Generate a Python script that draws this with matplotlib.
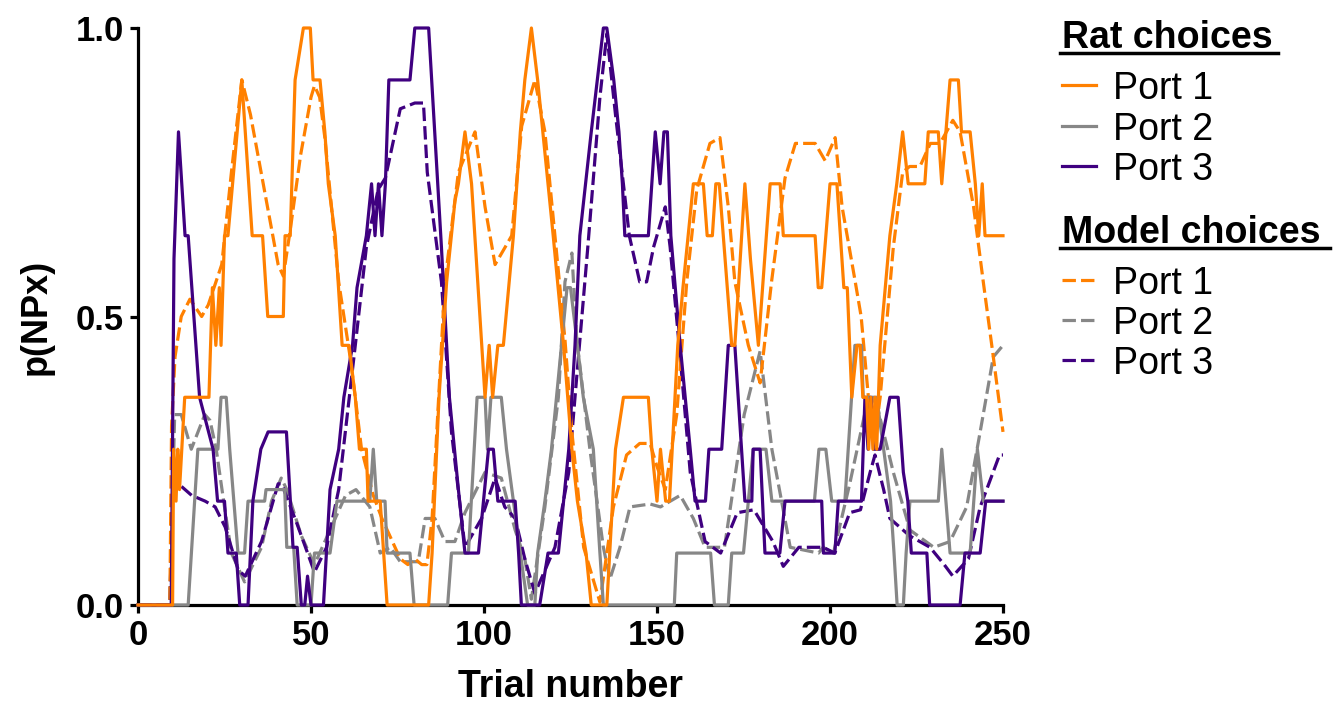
import matplotlib
matplotlib.use("Agg")
import matplotlib.pyplot as plt
from matplotlib.lines import Line2D

plt.rcParams['font.family'] = ['Liberation Sans', 'DejaVu Sans']

ORANGE = '#ff8000'
GREY = '#878787'
PURPLE = '#3f0080'

# rat choices: running fraction of pokes per port (trial, p)
rat_p1_t = [0, 10, 10.3, 11, 11.5, 12, 13.5, 20.5, 21.5, 22.5, 23.5, 24, 25, 26, 30, 31, 33, 36, 37.5, 42,
            42.5, 44, 45.4, 47.8, 49.8, 50.6, 52.6, 54, 55, 57, 59, 61, 62.8, 64, 66, 66.5, 70, 71, 72, 84,
            85, 87, 89.2, 91.6, 92.6, 94.5, 96.4, 100.3, 101.5, 102.5, 104, 105.6, 108.5, 110.5, 111.8, 113.7,
            115.5, 117, 120, 123, 125.4, 127, 129.5, 131, 135.5, 138, 140.3, 147.5, 148.5, 150, 151, 152.5,
            153.6, 156, 157.5, 160.5, 163.4, 164.5, 166, 167, 168, 171.6, 172.5, 175.4, 177, 179.3, 182.7,
            185.6, 186.5, 195.7, 196.6, 197.6, 200, 202, 204, 205, 206.3, 207.8, 208.7, 209.5, 210.6, 211.2,
            211.8, 212.4, 213, 213.5, 214.5, 217.3, 219.3, 221, 222.6, 227.4, 228.4, 231.3, 232.3, 233.5,
            234.7, 237.1, 238, 240.5, 242, 243, 244, 244.8, 250]
rat_p1_v = [0, 0, 0.27, 0.18, 0.27, 0.2, 0.36, 0.36, 0.55, 0.45, 0.55, 0.45, 0.64, 0.64, 0.91, 0.82, 0.64, 0.64, 0.5, 0.5,
            0.64, 0.64, 0.91, 1.0, 1.0, 0.91, 0.91, 0.82, 0.73, 0.64, 0.45, 0.45, 0.36, 0.27, 0.27, 0.18, 0.18, 0.09, 0, 0,
            0.09, 0.36, 0.56, 0.7, 0.73, 0.82, 0.73, 0.36, 0.45, 0.36, 0.45, 0.45, 0.64, 0.82, 0.91, 1.0,
            0.91, 0.82, 0.64, 0.45, 0.27, 0.18, 0.09, 0, 0, 0.27, 0.36, 0.36, 0.27, 0.18, 0.27, 0.18,
            0.18, 0.45, 0.55, 0.73, 0.73, 0.64, 0.64, 0.73, 0.73, 0.45, 0.45, 0.73, 0.6, 0.45, 0.73,
            0.73, 0.64, 0.64, 0.55, 0.55, 0.73, 0.73, 0.55, 0.55, 0.36, 0.45, 0.45, 0.36, 0.36, 0.27,
            0.36, 0.27, 0.36, 0.27, 0.45, 0.64, 0.73, 0.82, 0.73, 0.73, 0.82, 0.82, 0.73, 0.82,
            0.91, 0.91, 0.82, 0.82, 0.73, 0.64, 0.73, 0.64, 0.64]

rat_p2_t = [0, 14.5, 17.3, 23.1, 24, 25.5, 26.5, 28.9, 30.8, 31.8, 36.6, 37, 42.4, 43, 45, 46, 50, 51, 55.5, 57.5,
            67, 68, 69, 71.4, 72, 78.6, 79.8, 89.5, 90.6, 95.5, 98, 100.3, 101, 102, 105, 106.5, 108.5, 110.5,
            112.6, 114.7, 115.5, 117.6, 119.5, 122.4, 124, 125, 127, 128.7, 131.6, 133.5, 134.5, 155, 155.7,
            165.5, 166.6, 170.6, 171.6, 175, 177.8, 181.5, 183.2, 195.5, 196.8, 198.8, 200.5, 204.3, 207.2,
            209.1, 209.6, 213.5, 215.5, 217.5, 218.5, 219.4, 221.2, 222, 223.1, 231.3, 232.3, 234.7, 240.5,
            242.6, 244.3, 250]
rat_p2_v = [0, 0, 0.27, 0.27, 0.36, 0.36, 0.27, 0.09, 0.09, 0.18, 0.18, 0.2, 0.2, 0.1, 0.1, 0, 0, 0.09, 0.09, 0.18,
            0.18, 0.27, 0.18, 0.18, 0.09, 0.09, 0, 0, 0.09, 0.09, 0.36, 0.36, 0.27, 0.36, 0.36, 0.27, 0.18, 0.09,
            0, 0, 0.09, 0.18, 0.27, 0.45, 0.55, 0.55, 0.45, 0.36, 0.27, 0.09, 0, 0, 0.09,
            0.09, 0, 0, 0.09, 0.09, 0.27, 0.27, 0.18, 0.18, 0.27, 0.27, 0.18, 0.18, 0.45,
            0.45, 0.36, 0.36, 0.27, 0.18, 0.09, 0, 0, 0.09, 0.18, 0.18, 0.27, 0.09, 0.09,
            0.27, 0.18, 0.18]

rat_p3_t = [0, 9.6, 10.4, 11.7, 13.6, 14.5, 17.8, 21.7, 23, 25, 26, 28.4, 29.4, 31.8, 33.2, 35.5, 37.6, 42.9, 44.8, 46,
            47.2, 48.2, 49, 50, 53.6, 55.5, 58, 59.5, 62, 63.3, 66, 67.5, 68.5, 69.5, 70.5, 71.5, 72.5, 78.6, 80, 84,
            87.7, 90, 92.6, 94.5, 98.4, 101.3, 102.7, 104, 109, 110, 110.8, 116.1, 118.5, 121.5, 124.5, 126.3,
            127.7, 131, 134.5, 135.5, 137.5, 139, 140, 140.7, 147.5, 149.5, 150.9, 152, 153, 154, 156.7, 159.6,
            161, 164, 165, 168.7, 170.6, 172.5, 175.4, 177.4, 177.8, 179.8, 181.2, 185.5, 187, 197.6, 198.1,
            201.4, 202.4, 209.1, 210.1, 211, 211.8, 212.6, 214.5, 217.3, 219.7, 221.2, 222.5, 223.5, 228,
            228.8, 237.6, 239, 243.4, 245, 250]
rat_p3_v = [0, 0, 0.6, 0.82, 0.64, 0.64, 0.36, 0.27, 0.18, 0.18, 0.09, 0.09, 0, 0, 0.18, 0.27, 0.3, 0.3, 0.1, 0.1,
            0, 0, 0.05, 0, 0, 0.2, 0.27, 0.36, 0.45, 0.55, 0.64, 0.73, 0.64, 0.73, 0.64, 0.73, 0.91, 0.91, 1.0, 1.0,
            0.62, 0.36, 0.2, 0.09, 0.09, 0.27, 0.27, 0.18, 0.18, 0.09, 0, 0, 0.09, 0.09, 0.27, 0.45,
            0.64, 0.82, 1.0, 1.0, 0.91, 0.82, 0.73, 0.64, 0.64, 0.82, 0.73, 0.82, 0.82, 0.64, 0.45, 0.27,
            0.18, 0.18, 0.27, 0.27, 0.45, 0.45, 0.18, 0.18, 0.27, 0.27, 0.09, 0.09, 0.18, 0.18, 0.09,
            0.09, 0.18, 0.18, 0.36, 0.27, 0.36, 0.27, 0.27, 0.36, 0.36, 0.23, 0.18, 0.09, 0.09,
            0, 0, 0.09, 0.09, 0.18, 0.18]

# model choice probabilities per port
mod_p1_t = [0, 9.2, 9.7, 10.7, 12.5, 15, 18.4, 20.3, 24.2, 27, 30, 32.5, 36.5, 40.5, 42, 44, 47, 50, 51, 52.5,
            54, 58, 61.3, 62.8, 64.6, 68, 70.5, 75.8, 78, 80, 82, 83.5, 85, 88.7, 92.6, 97.4, 100.3, 103.2,
            106.1, 108, 110.9, 114.7, 117.6, 120.5, 123.4, 125.4, 128.8, 133.5, 137.4, 141.2, 145, 148, 150,
            152.4, 155.7, 158.6, 161.5, 165.3, 168.2, 170.6, 172.5, 176.4, 179.8, 183.1, 187, 190, 195.7,
            198.6, 201.5, 203.5, 207.3, 209, 211.1, 213, 214.5, 216.4, 218.3, 221, 223, 226, 229, 231.8,
            235.5, 237.6, 241.5, 244.3, 247.2, 250]
mod_p1_v = [0, 0, 0.31, 0.43, 0.5, 0.53, 0.5, 0.52, 0.59, 0.75, 0.91, 0.85, 0.72, 0.59, 0.57, 0.65, 0.78, 0.88, 0.9, 0.88,
            0.81, 0.56, 0.43, 0.36, 0.27, 0.19, 0.15, 0.08, 0.07, 0.08, 0.07, 0.07, 0.15, 0.56, 0.75, 0.82, 0.69, 0.59,
            0.62, 0.64, 0.83, 0.91, 0.82, 0.64, 0.46, 0.3, 0.1, 0.005, 0.17, 0.26, 0.28, 0.28, 0.24,
            0.2, 0.33, 0.56, 0.72, 0.8, 0.81, 0.69, 0.56, 0.45, 0.385, 0.56, 0.74, 0.8, 0.8,
            0.77, 0.81, 0.69, 0.56, 0.5, 0.36, 0.29, 0.36, 0.49, 0.62, 0.75, 0.76, 0.76, 0.8, 0.8,
            0.84, 0.82, 0.69, 0.56, 0.43, 0.3]

mod_p2_t = [0, 9.2, 10.6, 12.5, 15.4, 19.3, 20.8, 22.6, 25, 27, 30.8, 35.7, 38.6, 41.4, 43, 47.2, 51, 55.5, 60, 63,
            67, 70, 72.9, 75.8, 81, 83, 85.8, 88.7, 91.6, 94.5, 100.3, 105, 109, 111.8, 113.7, 117.6, 121.5,
            123.4, 125.4, 126.8, 130.6, 134.5, 136.4, 139.3, 142.2, 148, 151, 156.7, 160.5, 163.9, 169.5,
            175.2, 179.8, 183.2, 188.5, 196.7, 198, 201, 205.7, 210, 213, 218.3, 223.1, 230, 234.7, 239.5,
            243.4, 247.2, 250]
mod_p2_v = [0, 0, 0.33, 0.33, 0.27, 0.33, 0.32, 0.27, 0.17, 0.09, 0.04, 0.1, 0.18, 0.22, 0.2, 0.12, 0.07, 0.13, 0.19, 0.2,
            0.17, 0.09, 0.1, 0.075, 0.075, 0.15, 0.15, 0.11, 0.11, 0.16, 0.23, 0.22, 0.13, 0.08, 0.01, 0.17, 0.36,
            0.56, 0.61, 0.46, 0.27, 0.1, 0.045, 0.1, 0.17, 0.175, 0.17, 0.19, 0.15, 0.1, 0.1,
            0.33, 0.44, 0.27, 0.1, 0.09, 0.1, 0.09, 0.21, 0.33, 0.36, 0.23, 0.13, 0.1, 0.11, 0.17,
            0.3, 0.43, 0.45]

mod_p3_t = [0, 9.2, 10.2, 11.7, 15.5, 19.4, 22.3, 25.2, 29, 31, 35.7, 40.5, 41.5, 46, 51, 54.5, 58, 62.8, 66, 69.4,
            71.5, 75.8, 80, 82.5, 83.6, 87.7, 90.6, 94.5, 99.3, 103.2, 106, 109, 111.8, 114.7, 120.5, 124.5,
            126.3, 130, 133.5, 135.5, 138, 142, 145, 147, 149, 152.4, 153.8, 156.7, 159.6, 163.9, 168.4,
            173.2, 178, 183.5, 186.5, 191, 198, 201.4, 205.7, 208.8, 211.6, 213, 215.5, 217.3, 223,
            228.9, 233, 235.5, 240, 243.4, 249, 250]
mod_p3_v = [0, 0, 0.25, 0.21, 0.19, 0.18, 0.17, 0.135, 0.06, 0.05, 0.11, 0.21, 0.21, 0.14, 0.057, 0.1, 0.2, 0.45, 0.62, 0.72,
            0.74, 0.86, 0.87, 0.87, 0.75, 0.56, 0.3, 0.1, 0.15, 0.22, 0.17, 0.15, 0.08, 0.02, 0.1, 0.23,
            0.36, 0.62, 0.88, 0.99, 0.85, 0.64, 0.56, 0.56, 0.62, 0.69, 0.62, 0.43, 0.23, 0.11, 0.09,
            0.16, 0.165, 0.11, 0.067, 0.1, 0.1, 0.09, 0.16, 0.165, 0.23, 0.26, 0.2, 0.15, 0.12,
            0.1, 0.07, 0.05, 0.08, 0.17, 0.26, 0.26]

W, H = 1344, 707
fig = plt.figure(figsize=(W / 100, H / 100), dpi=100)
ax = fig.add_axes([138 / W, 1 - 605 / H, (1003 - 138) / W, (605 - 28) / H])

LW = 2.3
DASH = (0, (4.2, 1.6))
kw = dict(lw=LW, clip_on=False, zorder=3)

ax.plot(mod_p2_t, mod_p2_v, color=GREY, ls=DASH, **kw)
ax.plot(mod_p3_t, mod_p3_v, color=PURPLE, ls=DASH, **kw)
ax.plot(mod_p1_t, mod_p1_v, color=ORANGE, ls=DASH, **kw)
ax.plot(rat_p2_t, rat_p2_v, color=GREY, ls='-', **kw)
ax.plot(rat_p3_t, rat_p3_v, color=PURPLE, ls='-', **kw)
ax.plot(rat_p1_t, rat_p1_v, color=ORANGE, ls='-', **kw)

ax.set_xlim(0, 250)
ax.set_ylim(0, 1.0)
ax.set_xticks([0, 50, 100, 150, 200, 250])
ax.set_yticks([0, 0.5, 1.0])
ax.set_yticklabels(['0.0', '0.5', '1.0'])
for s in ['top', 'right']:
    ax.spines[s].set_visible(False)
for s in ['left', 'bottom']:
    ax.spines[s].set_linewidth(2.3)
ax.tick_params(length=6, width=2.3, labelsize=25, pad=4)
for lab in ax.get_xticklabels() + ax.get_yticklabels():
    lab.set_fontweight('bold')
ax.set_xlabel('Trial number', fontsize=27, fontweight='bold', labelpad=12)
ax.set_ylabel('p(NPx)', fontsize=26, fontweight='bold', labelpad=16)

# legend drawn by hand: two underlined groups
def fx(px):
    return px / W

def fy(py):
    return 1 - py / H

groups = [
    ('Rat choices', 48, 1062, 1278, 53, '-', [85, 126, 166]),
    ('Model choices', 243, 1062, 1330, 248, DASH, [280, 320, 360]),
]
colors = [ORANGE, GREY, PURPLE]
names = ['Port 1', 'Port 2', 'Port 3']
for title, base, x0, x1, uy, style, rows in groups:
    fig.text(fx(x0), fy(base), title, fontsize=27, fontweight='bold', ha='left', va='baseline')
    fig.add_artist(Line2D([fx(x0 - 2), fx(x1)], [fy(uy), fy(uy)], color='black', lw=2.5))
    for c, n, ry in zip(colors, names, rows):
        fig.add_artist(Line2D([fx(1062), fx(1096)], [fy(ry), fy(ry)], color=c, lw=LW, ls=style))
        fig.text(fx(1113), fy(ry), n, fontsize=27, ha='left', va='center_baseline')

fig.savefig('out.png', dpi=100)
